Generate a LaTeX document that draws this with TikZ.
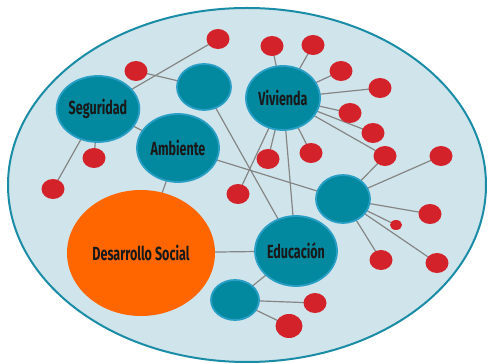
\documentclass[tikz,border=0pt]{standalone}
\usepackage{fontspec}
\setmainfont{Fira Sans}[FakeStretch=0.66]
\usetikzlibrary{shapes.geometric}
\definecolor{bgfill}{HTML}{D0E5EB}
\definecolor{bgline}{HTML}{1B8CA6}
\definecolor{teal}{HTML}{02899F}
\definecolor{tealb}{HTML}{2A9FC6}
\definecolor{dot}{HTML}{D4222B}
\definecolor{orng}{HTML}{FF6600}
\definecolor{edge}{HTML}{858585}
\pgfdeclarelayer{back}\pgfdeclarelayer{mid}
\pgfsetlayers{back,mid,main}
\tikzset{
  lbl/.style={font=\fontsize{19}{19}\selectfont\bfseries,text=black!90},
  hub/.style={ellipse,fill=teal,draw=tealb,line width=1.8pt,inner sep=0pt,lbl},
  reddot/.style={ellipse,fill=dot,inner sep=0pt,minimum width=23pt,minimum height=20pt},
  link/.style={draw=edge,line width=1.2pt},
}
\begin{document}
\begin{tikzpicture}[x=1pt,y=-1pt]
\useasboundingbox (0,0) rectangle (488,363);
\begin{pgfonlayer}{back}
\node[ellipse,fill=bgfill,draw=bgline,line width=2pt,minimum width=478pt,minimum height=354pt,inner sep=0pt] (world) at (247,185) {};
\end{pgfonlayer}
% hubs
\node[hub,minimum width=80pt,minimum height=66pt] (seg) at (98,109) {Seguridad};
\node[hub,minimum width=54pt,minimum height=46pt] (top) at (204,87) {};
\node[hub,minimum width=82pt,minimum height=68pt] (amb) at (178,148) {Ambiente};
\node[hub,minimum width=74pt,minimum height=64pt] (viv) at (283,98) {Vivienda};
\node[hub,minimum width=54pt,minimum height=48pt] (rc) at (343,199) {};
\node[hub,minimum width=82pt,minimum height=70pt] (edu) at (296,251) {Educación};
\node[hub,minimum width=48pt,minimum height=40pt] (bc) at (235,300) {};
\node[ellipse,fill=orng,inner sep=0pt,minimum width=148pt,minimum height=126pt,lbl] (des) at (141,253) {Desarrollo Social};
% red dots
\node[reddot] (d1) at (218,39) {};
\node[reddot] (d2) at (136,71) {};
\node[reddot] (d3) at (94,158) {};
\node[reddot] (d4) at (53,189) {};
\node[reddot] (d5) at (238,194) {};
\node[reddot] (v1) at (272,46) {};
\node[reddot] (v2) at (313,45) {};
\node[reddot] (v3) at (341,71) {};
\node[reddot] (v4) at (380,88) {};
\node[reddot] (v5) at (350,113) {};
\node[reddot] (v6) at (373,133) {};
\node[reddot] (v7) at (385,156) {};
\node[reddot] (v8) at (268,159) {};
\node[reddot] (v9) at (311,153) {};
\node[reddot] (r1) at (441,156) {};
\node[reddot] (r2) at (430,214) {};
\node[reddot,minimum width=12pt,minimum height=10pt] (r3) at (396,225) {};
\node[reddot] (r4) at (381,260) {};
\node[reddot] (r5) at (437,263) {};
\node[reddot] (b1) at (315,303) {};
\node[reddot,minimum width=27pt,minimum height=24pt] (b2) at (289,326) {};
\begin{pgfonlayer}{mid}
\draw[link] (seg.center) -- (d1.center);
\draw[link] (d2.center) -- (top.center);
\draw[link] (seg.center) -- (amb.center);
\draw[link] (seg.center) -- (d3.center);
\draw[link] (seg.center) -- (d4.center);
\draw[link] (top.center) -- (edu.center);
\draw[link] (amb.center) -- (rc.center);
\draw[link] (amb.center) -- (des.center);
\foreach \n in {v1,v2,v3,v4,v5,v6,v7,v8,v9,d5}
  \draw[link] (viv.center) -- (\n.center);
\draw[link] (viv.center) -- (edu.center);
\draw[link] (v7.center) -- (rc.center);
\foreach \n in {r1,r2,r3,r4,r5}
  \draw[link] (rc.center) -- (\n.center);
\draw[link] (des.center) -- (edu.center);
\draw[link] (edu.center) -- (bc.center);
\draw[link] (bc.center) -- (b1.center);
\draw[link] (bc.center) -- (b2.center);
\end{pgfonlayer}
\end{tikzpicture}
\end{document}
